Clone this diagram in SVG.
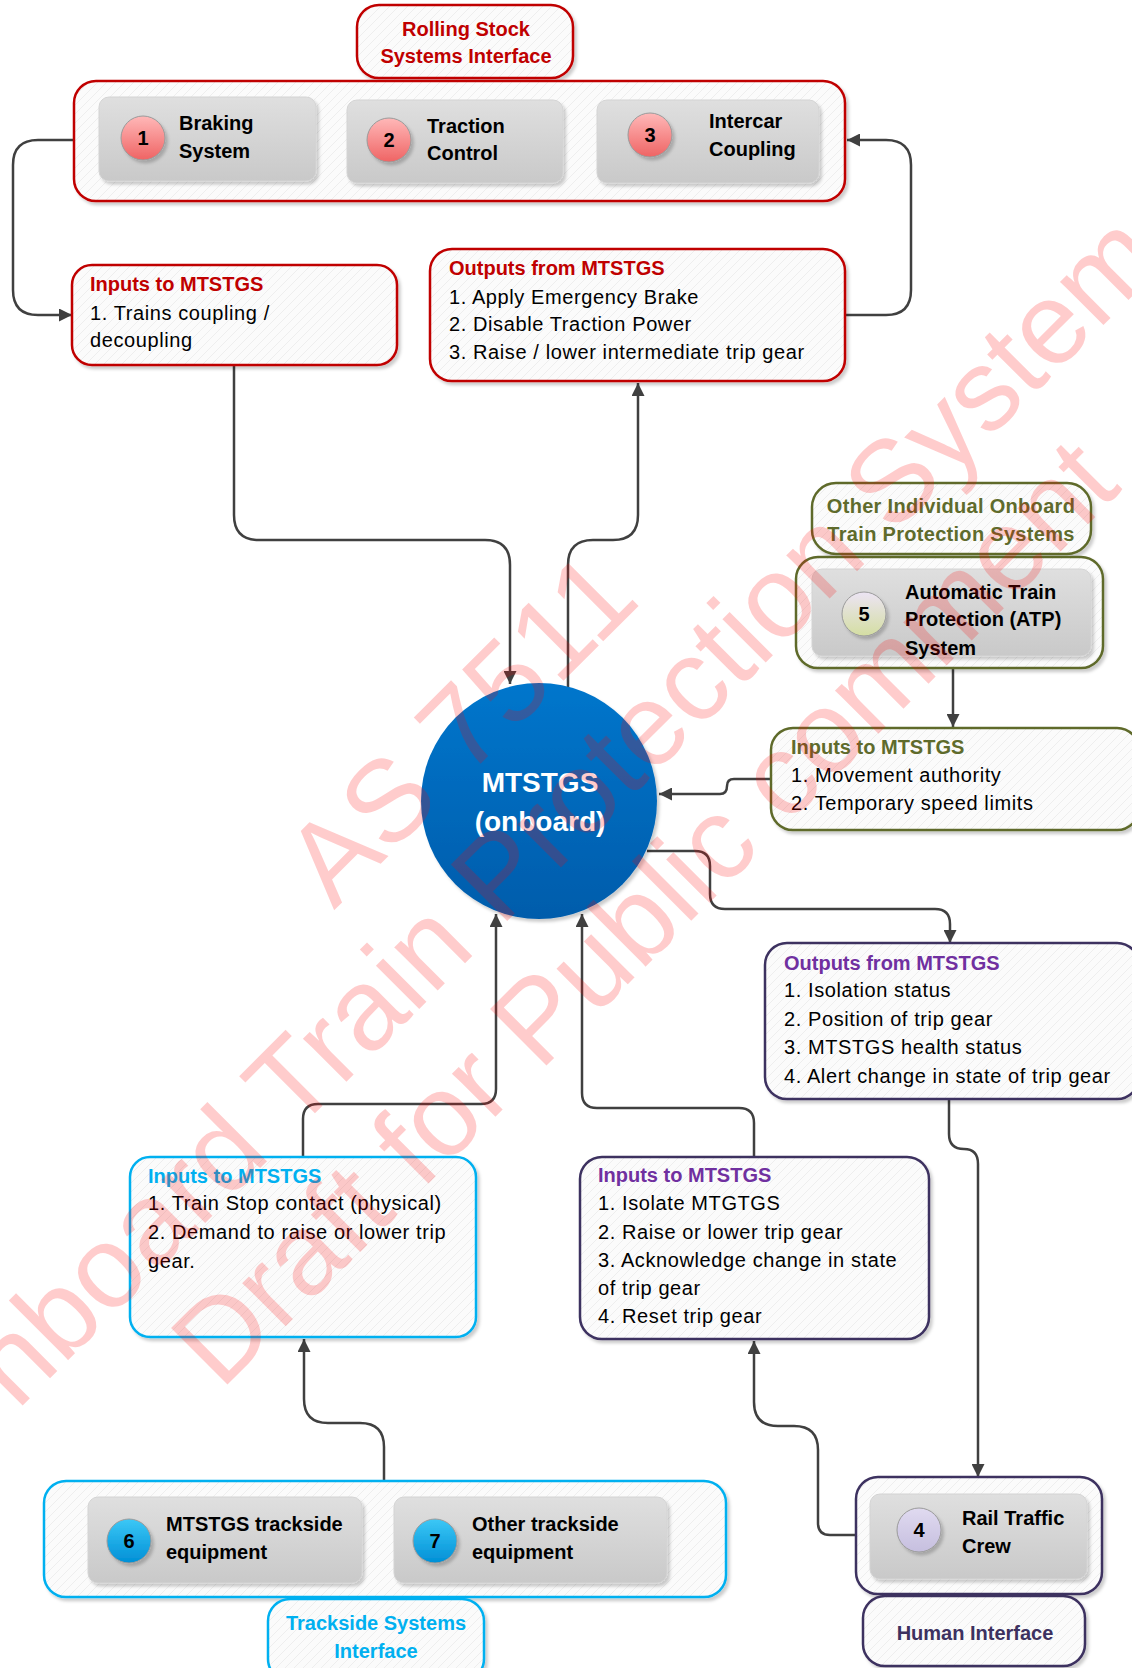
<svg xmlns="http://www.w3.org/2000/svg" width="1132" height="1668" viewBox="0 0 1132 1668">
<style>
.t{font-family:"Liberation Sans",Arial,sans-serif}
.ttl{font-family:"Liberation Sans",Arial,sans-serif;font-weight:bold;font-size:20px}
.bd{font-family:"Liberation Sans",Arial,sans-serif;font-size:20px;letter-spacing:0.6px;fill:#000}
.lb{font-family:"Liberation Sans",Arial,sans-serif;font-weight:bold;font-size:20px;fill:#000}
.num{font-family:"Liberation Sans",Arial,sans-serif;font-weight:bold;font-size:20px;fill:#000;text-anchor:middle}
.box{fill:url(#hatch);stroke-width:2.5;filter:url(#sh)}
.red{stroke:#C00000}
.olive{stroke:#5F6B2C}
.purp{stroke:#3D3160}
.cyan{stroke:#00B0F0}
.inner{fill:url(#gray);stroke:#d4d4d4;stroke-width:1;filter:url(#sh)}
.nc{stroke:#9a9a9a;stroke-width:1;filter:url(#sh)}
.conn{fill:none;stroke:#404040;stroke-width:2.5}
.wm{font-family:"Liberation Sans",Arial,sans-serif;font-size:116px;fill:#ff0000;fill-opacity:0.2;text-anchor:middle}
</style>
<defs>
<pattern id="hatch" patternUnits="userSpaceOnUse" width="9" height="9">
<rect width="9" height="9" fill="#fbfbfb"/>
<path d="M-2,2 L2,-2 M0,9 L9,0 M7,11 L11,7" stroke="#eeeeee" stroke-width="1"/>
</pattern>
<linearGradient id="gray" x1="0" y1="0" x2="0" y2="1"><stop offset="0" stop-color="#dfdfdf"/><stop offset="1" stop-color="#c9c9c9"/></linearGradient>
<linearGradient id="gRed" x1="0" y1="0" x2="0" y2="1"><stop offset="0" stop-color="#ffb8b8"/><stop offset="1" stop-color="#ef6464"/></linearGradient>
<linearGradient id="gCyan" x1="0" y1="0" x2="0" y2="1"><stop offset="0" stop-color="#3cc8f6"/><stop offset="1" stop-color="#008fd6"/></linearGradient>
<linearGradient id="gFive" x1="0" y1="0" x2="0" y2="1"><stop offset="0" stop-color="#ece4f4"/><stop offset="1" stop-color="#d4dea2"/></linearGradient>
<linearGradient id="gFour" x1="0" y1="0" x2="0" y2="1"><stop offset="0" stop-color="#e0daf0"/><stop offset="1" stop-color="#c6bfdf"/></linearGradient>
<linearGradient id="gBlue" x1="0" y1="0" x2="0" y2="1"><stop offset="0" stop-color="#0676cc"/><stop offset="1" stop-color="#005cab"/></linearGradient>
<filter id="sh" x="-10%" y="-10%" width="125%" height="130%"><feDropShadow dx="2.5" dy="3" stdDeviation="1.5" flood-color="#000" flood-opacity="0.2"/></filter>
<marker id="arr" viewBox="0 0 12 12" refX="12" refY="6" markerWidth="13" markerHeight="13" markerUnits="userSpaceOnUse" orient="auto"><path d="M0,0 L12,6 L0,12 z" fill="#404040"/></marker>
</defs>
<rect width="1132" height="1668" fill="#ffffff"/>

<g id="connectors">
<path class="conn" marker-end="url(#arr)" d="M74,140 H38 Q13,140 13,165 V290 Q13,315 38,315 H72"/>
<path class="conn" marker-end="url(#arr)" d="M845,315 H886 Q911,315 911,290 V165 Q911,140 886,140 H847"/>
<path class="conn" marker-end="url(#arr)" d="M234,365 V515 Q234,540 259,540 H485 Q510,540 510,565 V684"/>
<path class="conn" marker-end="url(#arr)" d="M568,690 V565 Q568,540 593,540 H613 Q638,540 638,515 V383"/>
<path class="conn" marker-end="url(#arr)" d="M953,668 V727"/>
<path class="conn" marker-end="url(#arr)" d="M772,779 H734 Q727,779 727,786 Q727,794 720,794 H659"/>
<path class="conn" marker-end="url(#arr)" d="M647,851 H695 Q710,851 710,866 V894 Q710,909 725,909 H935 Q950,909 950,924 V943"/>
<path class="conn" marker-end="url(#arr)" d="M949,1099 V1134 Q949,1149 964,1149 Q978,1149 978,1164 V1477"/>
<path class="conn" marker-end="url(#arr)" d="M303,1157 V1119 Q303,1104 318,1104 H481 Q496,1104 496,1089 V914"/>
<path class="conn" marker-end="url(#arr)" d="M754,1157 V1123 Q754,1108 739,1108 H597 Q582,1108 582,1093 V914"/>
<path class="conn" marker-end="url(#arr)" d="M384,1481 V1447 Q384,1423 360,1423 H328 Q304,1423 304,1399 V1339"/>
<path class="conn" marker-end="url(#arr)" d="M856,1535 H830 Q818,1535 818,1523 V1450 Q818,1426 794,1426 H778 Q754,1426 754,1402 V1341"/>
</g>

<g id="rolling-stock-label">
<rect class="box red" x="357" y="5" width="216" height="73" rx="22"/>
<text class="ttl" fill="#C00000" text-anchor="middle"><tspan x="466" y="36">Rolling Stock</tspan><tspan x="466" y="63">Systems Interface</tspan></text>
</g>
<g id="rolling-stock-container">
<rect class="box red" x="74" y="81" width="771" height="120" rx="22"/>
</g>
<g id="node-1-braking">
<rect class="inner" x="99" y="97" width="217" height="84" rx="10"/>
<circle class="nc" cx="143" cy="138" r="22" fill="url(#gRed)"/>
<text class="num" x="143" y="145">1</text>
<text class="lb"><tspan x="179" y="130">Braking</tspan><tspan x="179" y="158">System</tspan></text>
</g>
<g id="node-2-traction">
<rect class="inner" x="347" y="100" width="216" height="83" rx="10"/>
<circle class="nc" cx="389" cy="140" r="22" fill="url(#gRed)"/>
<text class="num" x="389" y="147">2</text>
<text class="lb"><tspan x="427" y="133">Traction</tspan><tspan x="427" y="160">Control</tspan></text>
</g>
<g id="node-3-intercar">
<rect class="inner" x="597" y="100" width="222" height="83" rx="10"/>
<circle class="nc" cx="650" cy="135" r="22" fill="url(#gRed)"/>
<text class="num" x="650" y="142">3</text>
<text class="lb"><tspan x="709" y="128">Intercar</tspan><tspan x="709" y="156">Coupling</tspan></text>
</g>

<g id="red-inputs">
<rect class="box red" x="72" y="265" width="325" height="100" rx="20"/>
<text class="ttl" fill="#C00000" x="90" y="291">Inputs to MTSTGS</text>
<text class="bd"><tspan x="90" y="320">1. Trains coupling /</tspan><tspan x="90" y="347">decoupling</tspan></text>
</g>
<g id="red-outputs">
<rect class="box red" x="430" y="249" width="415" height="132" rx="22"/>
<text class="ttl" fill="#C00000" x="449" y="275">Outputs from MTSTGS</text>
<text class="bd"><tspan x="449" y="304">1. Apply Emergency Brake</tspan><tspan x="449" y="331">2. Disable Traction Power</tspan><tspan x="449" y="359">3. Raise / lower intermediate trip gear</tspan></text>
</g>

<g id="mtstgs">
<circle cx="539" cy="801" r="118" fill="url(#gBlue)" filter="url(#sh)"/>
<text class="t" font-weight="bold" font-size="28" fill="#ffffff" text-anchor="middle"><tspan x="540" y="792">MTSTGS</tspan><tspan x="540" y="831">(onboard)</tspan></text>
</g>

<g id="onboard-label">
<rect class="box olive" x="812" y="483" width="279" height="71" rx="24"/>
<text class="ttl" fill="#5F6B2C" text-anchor="middle" letter-spacing="0.3"><tspan x="951" y="513">Other Individual Onboard</tspan><tspan x="951" y="541">Train Protection Systems</tspan></text>
</g>
<g id="node-5-atp">
<rect class="box olive" x="796" y="557" width="307" height="111" rx="22"/>
<rect class="inner" x="812" y="569" width="279" height="87" rx="10"/>
<circle class="nc" cx="864" cy="614" r="22" fill="url(#gFive)"/>
<text class="num" x="864" y="621">5</text>
<text class="lb"><tspan x="905" y="599">Automatic Train</tspan><tspan x="905" y="626">Protection (ATP)</tspan><tspan x="905" y="655">System</tspan></text>
</g>
<g id="olive-inputs">
<rect class="box olive" x="771" y="728" width="368" height="102" rx="22"/>
<text class="ttl" fill="#5F6B2C" x="791" y="754">Inputs to MTSTGS</text>
<text class="bd" letter-spacing="1"><tspan x="791" y="782">1. Movement authority</tspan><tspan x="791" y="810">2. Temporary speed limits</tspan></text>
</g>

<g id="purple-outputs">
<rect class="box purp" x="765" y="943" width="374" height="156" rx="22"/>
<text class="ttl" fill="#7030A0" x="784" y="970">Outputs from MTSTGS</text>
<text class="bd" letter-spacing="0.7"><tspan x="784" y="997">1. Isolation status</tspan><tspan x="784" y="1026">2. Position of trip gear</tspan><tspan x="784" y="1054">3. MTSTGS health status</tspan><tspan x="784" y="1083">4. Alert change in state of trip gear</tspan></text>
</g>

<g id="cyan-inputs">
<rect class="box cyan" x="130" y="1157" width="346" height="180" rx="20"/>
<text class="ttl" fill="#00B0F0" x="148" y="1183">Inputs to MTSTGS</text>
<text class="bd" letter-spacing="0.5"><tspan x="148" y="1210">1. Train Stop contact (physical)</tspan><tspan x="148" y="1239">2. Demand to raise or lower trip</tspan><tspan x="148" y="1268">gear.</tspan></text>
</g>
<g id="purple-inputs">
<rect class="box purp" x="580" y="1157" width="349" height="182" rx="22"/>
<text class="ttl" fill="#7030A0" x="598" y="1182">Inputs to MTSTGS</text>
<text class="bd"><tspan x="598" y="1210">1. Isolate MTGTGS</tspan><tspan x="598" y="1239">2. Raise or lower trip gear</tspan><tspan x="598" y="1267">3. Acknowledge change in state</tspan><tspan x="598" y="1295">of trip gear</tspan><tspan x="598" y="1323">4. Reset trip gear</tspan></text>
</g>

<g id="trackside-container">
<rect class="box cyan" x="44" y="1481" width="682" height="116" rx="22"/>
</g>
<g id="node-6-mtstgs-trackside">
<rect class="inner" x="88" y="1497" width="274" height="86" rx="10"/>
<circle class="nc" cx="129" cy="1541" r="22" fill="url(#gCyan)"/>
<text class="num" x="129" y="1548">6</text>
<text class="lb"><tspan x="166" y="1531">MTSTGS trackside</tspan><tspan x="166" y="1559">equipment</tspan></text>
</g>
<g id="node-7-other-trackside">
<rect class="inner" x="394" y="1497" width="273" height="86" rx="10"/>
<circle class="nc" cx="435" cy="1541" r="22" fill="url(#gCyan)"/>
<text class="num" x="435" y="1548">7</text>
<text class="lb"><tspan x="472" y="1531">Other trackside</tspan><tspan x="472" y="1559">equipment</tspan></text>
</g>
<g id="trackside-label">
<rect class="box cyan" x="268" y="1599" width="216" height="82" rx="22"/>
<text class="ttl" fill="#00B0F0" text-anchor="middle"><tspan x="376" y="1630">Trackside Systems</tspan><tspan x="376" y="1658">Interface</tspan></text>
</g>

<g id="node-4-rail-crew">
<rect class="box purp" x="856" y="1477" width="246" height="117" rx="22"/>
<rect class="inner" x="870" y="1494" width="217" height="85" rx="10"/>
<circle class="nc" cx="919" cy="1530" r="22" fill="url(#gFour)"/>
<text class="num" x="919" y="1537">4</text>
<text class="lb"><tspan x="962" y="1525">Rail Traffic</tspan><tspan x="962" y="1553">Crew</tspan></text>
</g>
<g id="human-label">
<rect class="box purp" x="863" y="1596" width="222" height="70" rx="22"/>
<text class="ttl" fill="#3D3160" text-anchor="middle" x="975" y="1640">Human Interface</text>
</g>

<g id="watermark" transform="rotate(-45 566 834)">
<text class="wm" x="566" y="724">AS 7511</text>
<text class="wm" x="566" y="854">Onboard Train Protection Systems</text>
<text class="wm" x="566" y="984">Draft for Public comment</text>
</g>
</svg>
